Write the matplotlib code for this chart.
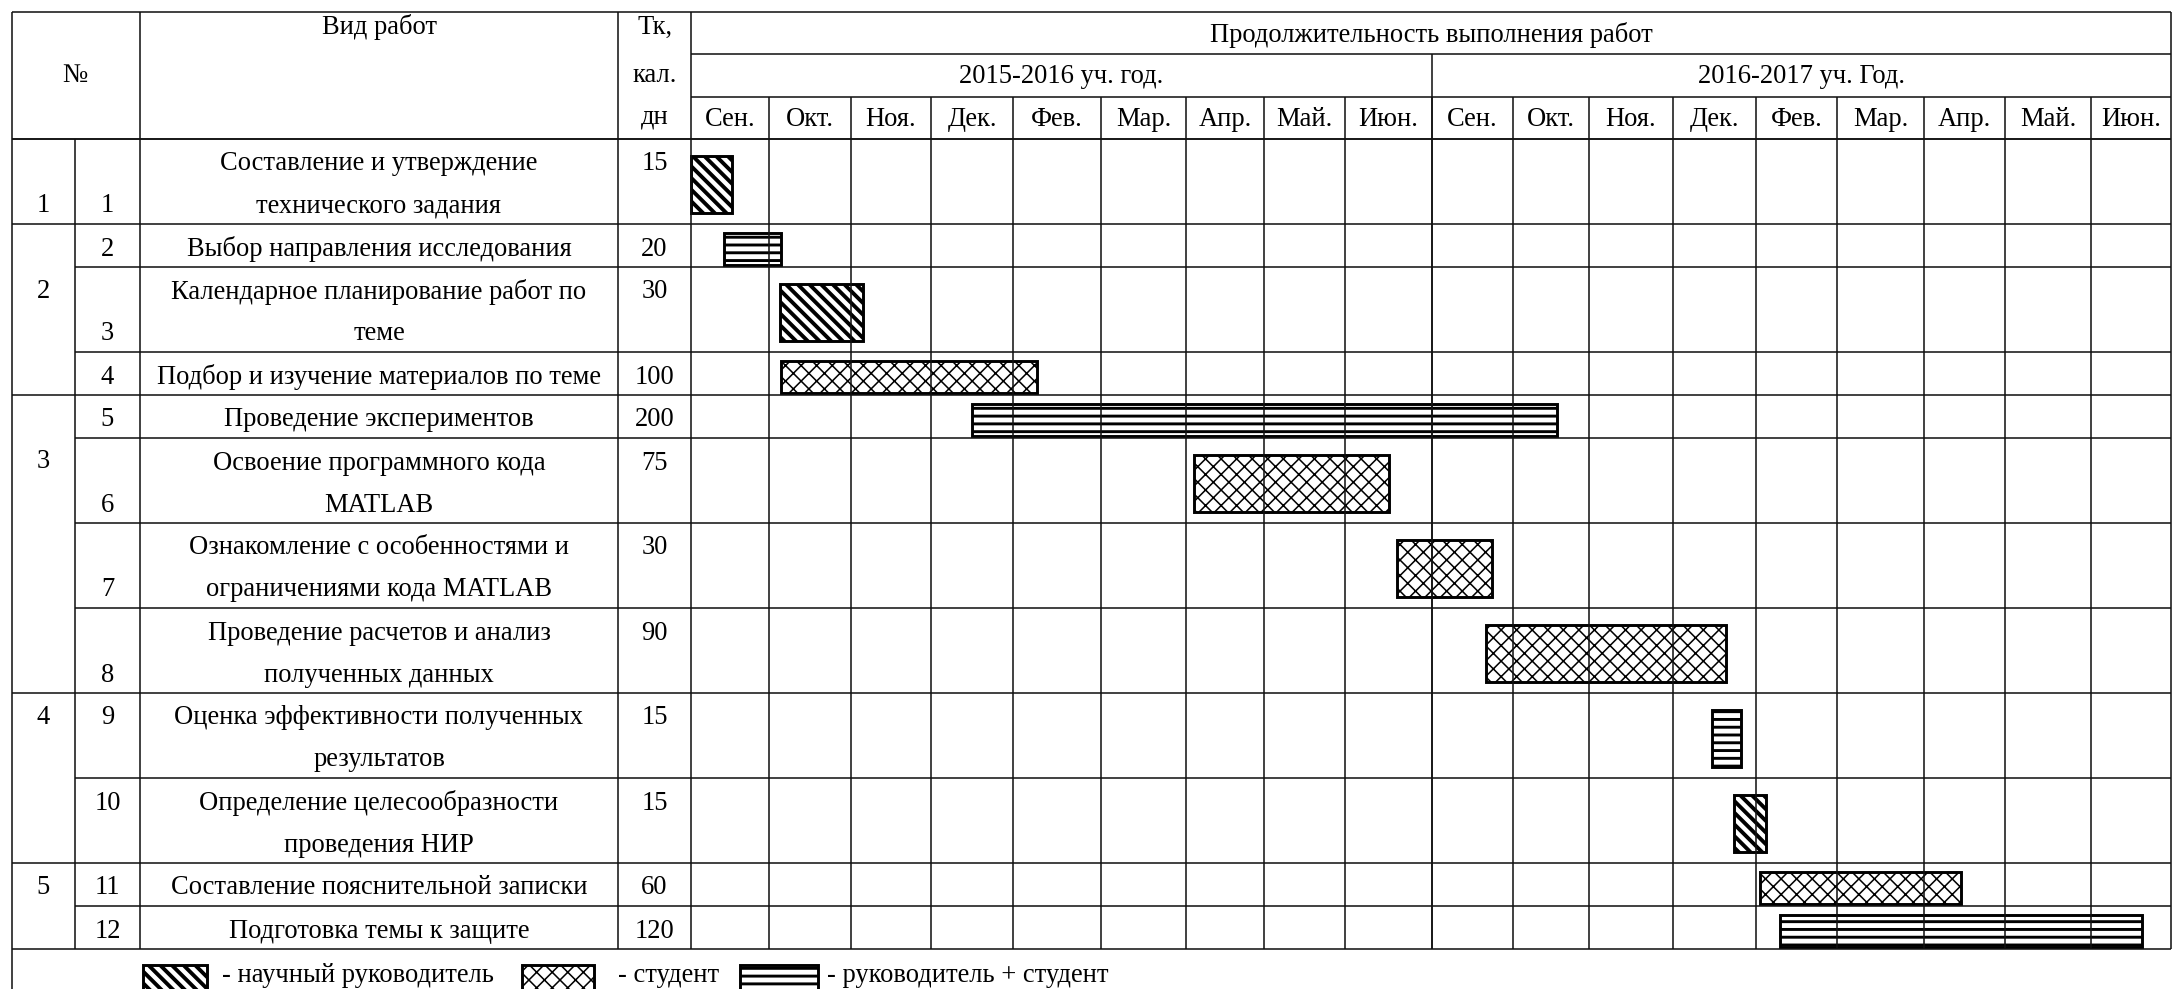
import numpy as np
import matplotlib.pyplot as plt
from matplotlib.patches import Rectangle

plt.rcParams['font.family'] = ['Liberation Serif', 'DejaVu Serif']

# ---- данные ----
stages = [1, 2, 2, 2, 3, 3, 3, 3, 4, 4, 5, 5]
task_names = [
    'Составление и утверждение\nтехнического задания',
    'Выбор направления исследования',
    'Календарное планирование работ по\nтеме',
    'Подбор и изучение материалов по теме',
    'Проведение экспериментов',
    'Освоение программного кода\nMATLAB',
    'Ознакомление с особенностями и\nограничениями кода MATLAB',
    'Проведение расчетов и анализ\nполученных данных',
    'Оценка эффективности полученных\nрезультатов',
    'Определение целесообразности\nпроведения НИР',
    'Составление пояснительной записки',
    'Подготовка темы к защите',
]
durations = [15, 20, 30, 100, 200, 75, 30, 90, 15, 15, 60, 120]
# начало / конец работы в месяцах от начала сентября 2015
start_month = [0.0, 0.42, 1.13, 1.15, 3.5, 6.1, 8.6, 9.67, 12.47, 12.73, 13.05, 13.3]
end_month = [0.53, 1.15, 2.15, 4.27, 10.58, 8.5, 9.74, 12.64, 12.82, 13.12, 15.46, 17.64]
performer = ['рук', 'оба', 'рук', 'студ', 'оба', 'студ', 'студ', 'студ', 'оба', 'рук', 'студ', 'оба']
months = ['Сен.', 'Окт.', 'Ноя.', 'Дек.', 'Фев.', 'Мар.', 'Апр.', 'Май.', 'Июн.']
years = ['2015-2016 уч. год.', '2016-2017 уч. Год.']
legend_labels = {'рук': '- научный руководитель', 'студ': '- студент', 'оба': '- руководитель + студент'}

# ---- разметка ----
W, H, DPI = 2172, 989, 140
FS = 13.65
x_left, x_sub, x_name, x_tk, x_gantt, x_right = 12, 75, 140, 618, 691, 2171
month_edges = [691, 769, 851, 931, 1013, 1101, 1186, 1264, 1345, 1432,
               1513, 1589, 1673, 1756, 1837, 1924, 2005, 2091, 2171]
y_top, y_h1, y_h2, y_body = 12, 54, 97, 139
line_h = 42.0
row_h = [43 if '\n' not in n else 85 for n in task_names]
row_top = y_body + np.concatenate([[0], np.cumsum(row_h)[:-1]])
y_end = y_body + sum(row_h)
stage_line = {1: 1, 2: 1, 3: 1, 4: 0, 5: 0}
num_line = [1, 0, 1, 0, 0, 1, 1, 1, 0, 0, 0, 0]
hatches = {'рук': '\\\\\\\\', 'студ': 'xxx', 'оба': '---'}
hatch_lw = {'рук': 2.0, 'студ': 0.8, 'оба': 1.5}

fig = plt.figure(figsize=(W / DPI, H / DPI), dpi=DPI)
ax = fig.add_axes([0, 0, 1, 1])
ax.set_xlim(0, W)
ax.set_ylim(H, 0)
ax.axis('off')

lc = dict(color='#111111', lw=0.8)

# шапка
ax.hlines(y_top, x_left, x_right, **lc)
ax.hlines([y_h1, y_h2], x_gantt, x_right, **lc)
ax.hlines(y_body, x_left, x_right, **lc)
ax.vlines(x_left, y_top, H, **lc)
ax.vlines([x_name, x_tk, x_gantt, x_right], y_top, y_end, **lc)
ax.vlines(month_edges[9], y_h1, y_end, **lc)
ax.vlines(month_edges[1:-1], y_h2, y_end, **lc)
ax.vlines(x_sub, y_body, y_end, **lc)

ax.text(x_sub, (y_top + y_body) / 2, '№', ha='center', va='center', fontsize=FS)
ax.text((x_name + x_tk) / 2, y_top + 15, 'Вид работ', ha='center', va='center', fontsize=FS)
for k, t in enumerate(['Тк,', 'кал.', 'дн']):
    ax.text((x_tk + x_gantt) / 2, y_top + (15 if k == 0 else 22 + k * line_h - 1), t,
            ha='center', va='center', fontsize=FS)
ax.text((x_gantt + x_right) / 2, (y_top + y_h1) / 2 + 2, 'Продолжительность выполнения работ',
        ha='center', va='center', fontsize=FS)
for k, yr in enumerate(years):
    ax.text((month_edges[9 * k] + month_edges[9 * k + 9]) / 2, (y_h1 + y_h2) / 2 + 1, yr,
            ha='center', va='center', fontsize=FS)
for k in range(18):
    ax.text((month_edges[k] + month_edges[k + 1]) / 2, (y_h2 + y_body) / 2 + 1, months[k % 9],
            ha='center', va='center', fontsize=FS)

# строки таблицы
for i, name in enumerate(task_names):
    top = row_top[i]
    first = i == 0 or stages[i] != stages[i - 1]
    if first:
        ax.hlines(top, x_left, x_right, **lc)
        ax.text((x_left + x_sub) / 2, top + 25 + stage_line[stages[i]] * line_h, str(stages[i]),
                ha='center', va='center', fontsize=FS)
    else:
        ax.hlines(top, x_sub, x_right, **lc)
    ax.text((x_sub + x_name) / 2, top + 25 + num_line[i] * line_h, str(i + 1),
            ha='center', va='center', fontsize=FS)
    for k, part in enumerate(name.split('\n')):
        ax.text((x_name + x_tk) / 2, top + 25 + k * line_h, part, ha='center', va='center', fontsize=FS)
    ax.text((x_tk + x_gantt) / 2, top + 25, str(durations[i]), ha='center', va='center', fontsize=FS)
ax.hlines(y_end, x_left, x_right, **lc)

# полосы диаграммы
left = np.interp(start_month, np.arange(19), month_edges)
right = np.interp(end_month, np.arange(19), month_edges)
for i in range(len(task_names)):
    h = 57 if row_h[i] > 50 else 32
    with plt.rc_context({'hatch.linewidth': hatch_lw[performer[i]]}):
        ax.barh(row_top[i] + row_h[i] / 2 + 3, right[i] - left[i], left=left[i], height=h,
                color='white', edgecolor='black', linewidth=1.5, hatch=hatches[performer[i]])

# легенда
leg_items = [('рук', 143, 64, 222), ('студ', 522, 72, 618), ('оба', 740, 78, 827)]
for key, lx, lw_, tx in leg_items:
    with plt.rc_context({'hatch.linewidth': hatch_lw[key]}):
        ax.add_patch(Rectangle((lx, 965), lw_, 40, facecolor='white', edgecolor='black',
                               linewidth=1.5, hatch=hatches[key]))
    ax.text(tx, 975, legend_labels[key], ha='left', va='center', fontsize=FS)

fig.savefig('out.png', dpi=DPI)
